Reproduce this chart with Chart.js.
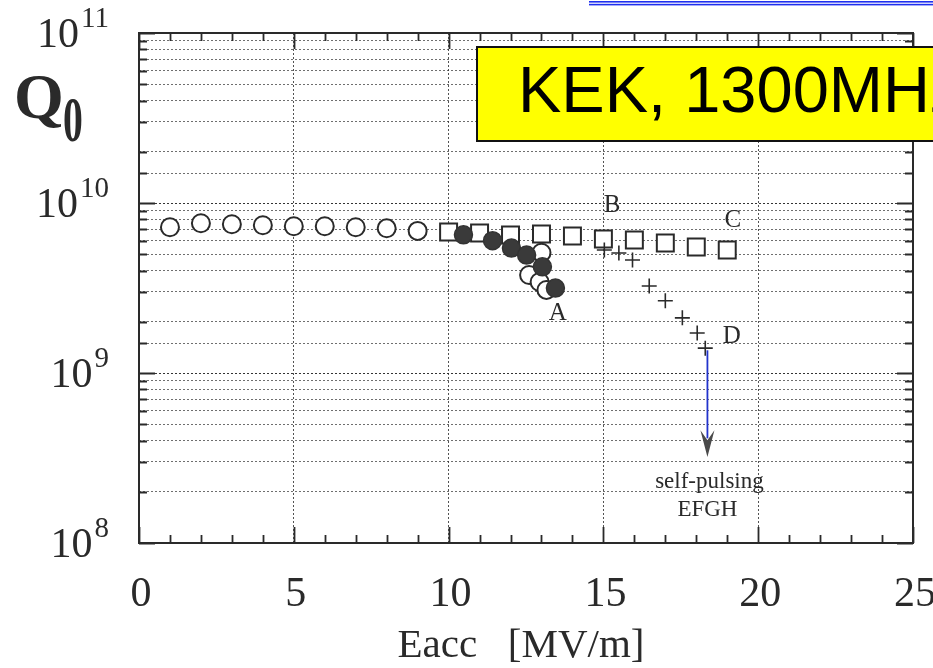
<!DOCTYPE html>
<html>
<head>
<meta charset="utf-8">
<script src="https://cdn.jsdelivr.net/npm/chart.js@4"></script>
<style>
  html, body { margin: 0; padding: 0; background: #fff; }
  #wrap { width: 933px; height: 668px; }
</style>
</head>
<body>
<div id="wrap"><canvas id="q0Chart" width="933" height="668"></canvas></div>
<script>
// Q0 vs Eacc, KEK 1300 MHz cavities
const xTickLabels = [0, 5, 10, 15, 20, 25];
const yDecades = [1e8, 1e9, 1e10, 1e11];

// run A, open circles (rise then drop past 12.5 MV/m)
const openE = [1, 2, 3, 4, 5, 6, 7, 8, 9, 13.0, 12.6, 12.94, 13.16];
const openQ = [7.2e9, 7.6e9, 7.5e9, 7.4e9, 7.3e9, 7.3e9, 7.2e9, 7.1e9, 6.85e9, 5.1e9, 3.77e9, 3.43e9, 3.08e9];

// run A, filled circles
const filledE = [10.48, 11.42, 12.03, 12.52, 13.03, 13.45];
const filledQ = [6.5e9, 6.0e9, 5.43e9, 4.94e9, 4.21e9, 3.16e9];

// runs B-C, squares
const squareE = [10, 11, 12, 13, 14, 15, 16, 17, 18, 19];
const squareQ = [6.75e9, 6.66e9, 6.49e9, 6.57e9, 6.4e9, 6.14e9, 6.06e9, 5.82e9, 5.51e9, 5.29e9];

// run D, crosses
const crossE = [15.03, 15.5, 15.94, 16.48, 17.0, 17.55, 18.03, 18.29];
const crossQ = [5.29e9, 5.08e9, 4.62e9, 3.25e9, 2.66e9, 2.11e9, 1.72e9, 1.40e9];

const toPoints = (xs, ys) => xs.map((v, i) => ({ x: v, y: ys[i] }));

const ink = '#2a2a2a';
const serif = '"Liberation Serif", "Times New Roman", serif';

const isDecade = v => Math.abs(Math.log10(v) - Math.round(Math.log10(v))) < 1e-9;

// run letters and the self-pulsing note, placed in data units
const runLabels = [
    { text: 'A', e: 13.53, q: 2.25e9 },
    { text: 'B', e: 15.28, q: 9.7e9 },
    { text: 'C', e: 19.18, q: 7.9e9 },
    { text: 'D', e: 19.15, q: 1.63e9 }
];
const arrow = { e: 18.36, from: 1.36e9, to: 3.2e8, head: 4.6e8 };

const decor = {
    id: 'decor',
    afterDraw(chart) {
        const { ctx, chartArea: a, scales: { x, y } } = chart;
        ctx.save();

        // frame
        ctx.strokeStyle = ink;
        ctx.lineWidth = 2;
        ctx.strokeRect(a.left, a.top, a.right - a.left, a.bottom - a.top);

        // inward ticks on all four sides
        ctx.lineWidth = 1.8;
        ctx.beginPath();
        x.ticks.forEach(t => {
            const px = Math.round(x.getPixelForValue(t.value)) + 0.5;
            const len = t.value % 5 === 0 ? 16 : 8;
            ctx.moveTo(px, a.bottom); ctx.lineTo(px, a.bottom - len);
            ctx.moveTo(px, a.top); ctx.lineTo(px, a.top + len);
        });
        y.ticks.forEach(t => {
            const py = Math.round(y.getPixelForValue(t.value)) + 0.5;
            const len = isDecade(t.value) ? 16 : 8;
            ctx.moveTo(a.left, py); ctx.lineTo(a.left + len, py);
            ctx.moveTo(a.right, py); ctx.lineTo(a.right - len, py);
        });
        ctx.stroke();

        // x tick labels
        ctx.fillStyle = ink;
        ctx.font = '42px ' + serif;
        ctx.textAlign = 'center';
        ctx.textBaseline = 'alphabetic';
        xTickLabels.forEach(v => {
            ctx.fillText(String(v), x.getPixelForValue(v) + 2, 606);
        });

        // y tick labels as 10^n
        yDecades.forEach(v => {
            const py = y.getPixelForValue(v);
            const exp = String(Math.round(Math.log10(v)));
            ctx.textAlign = 'right';
            ctx.font = '29px ' + serif;
            ctx.fillText(exp, 109, py - 6);
            const ew = ctx.measureText(exp).width;
            ctx.font = '42px ' + serif;
            ctx.fillText('10', 109 - ew - 2, py + 14);
        });

        // axis titles
        ctx.textAlign = 'center';
        ctx.font = '41px ' + serif;
        ctx.fillText('Eacc   [MV/m]', 521, 657);

        ctx.textAlign = 'left';
        ctx.font = 'bold 64px ' + serif;
        ctx.fillText('Q', 14, 118);
        ctx.save();
        ctx.translate(63, 141);
        ctx.scale(0.62, 1);
        ctx.font = 'bold 64px ' + serif;
        ctx.fillText('0', 0, 0);
        ctx.restore();

        // run letters
        ctx.textAlign = 'center';
        ctx.textBaseline = 'middle';
        ctx.font = '25px ' + serif;
        runLabels.forEach(l => {
            ctx.fillText(l.text, x.getPixelForValue(l.e), y.getPixelForValue(l.q));
        });

        // self-pulsing arrow
        const ax = x.getPixelForValue(arrow.e);
        const y0 = y.getPixelForValue(arrow.from);
        const y1 = y.getPixelForValue(arrow.to);
        const yh = y.getPixelForValue(arrow.head);
        ctx.strokeStyle = '#2233cc';
        ctx.lineWidth = 1.8;
        ctx.beginPath();
        ctx.moveTo(ax, y0);
        ctx.lineTo(ax, yh + 8);
        ctx.stroke();
        ctx.fillStyle = '#4a4a4a';
        ctx.beginPath();
        ctx.moveTo(ax - 7, yh);
        ctx.lineTo(ax, y1);
        ctx.lineTo(ax + 7, yh);
        ctx.lineTo(ax, yh + 10);
        ctx.closePath();
        ctx.fill();

        ctx.fillStyle = ink;
        ctx.font = '23px ' + serif;
        ctx.fillText('self-pulsing', ax + 2, y.getPixelForValue(2.29e8));
        ctx.fillText('EFGH', ax, y.getPixelForValue(1.56e8));

        // title box
        ctx.fillStyle = '#ffff00';
        ctx.fillRect(477, 47, 470, 94);
        ctx.strokeStyle = '#111';
        ctx.lineWidth = 2;
        ctx.strokeRect(477, 47, 470, 94);
        ctx.fillStyle = '#000';
        ctx.textAlign = 'left';
        ctx.textBaseline = 'alphabetic';
        ctx.font = '65px "Liberation Sans", Arial, sans-serif';
        ctx.fillText('KEK, 1300MHz', 518, 112);

        // link underline at the top edge
        ctx.fillStyle = '#1f2fee';
        ctx.fillRect(589, 1, 344, 1.6);
        ctx.fillRect(589, 3.8, 344, 1.6);

        ctx.restore();
    }
};

const gridX = c => {
    const v = c.tick ? c.tick.value : null;
    return (v !== null && v % 5 === 0 && v > 0 && v < 25) ? 'rgba(40,40,40,0.8)' : 'rgba(0,0,0,0)';
};
const gridY = c => {
    const v = c.tick ? c.tick.value : null;
    if (v === null || v <= 1e8 || v >= 1e11) return 'rgba(0,0,0,0)';
    return isDecade(v) ? 'rgba(30,30,30,0.9)' : 'rgba(50,50,50,0.7)';
};

new Chart(document.getElementById('q0Chart'), {
    type: 'scatter',
    data: {
        datasets: [
            {
                data: toPoints(crossE, crossQ), order: 1,
                pointStyle: 'cross', pointRadius: 7.5, borderWidth: 1.6,
                borderColor: ink, backgroundColor: ink
            },
            {
                data: toPoints(filledE, filledQ), order: 2,
                pointStyle: 'circle', pointRadius: 9, borderWidth: 1.5,
                borderColor: '#333', backgroundColor: '#3a3a3a'
            },
            {
                data: toPoints(squareE, squareQ), order: 3,
                pointStyle: 'rect', pointRadius: 12, borderWidth: 2,
                borderColor: ink, backgroundColor: '#fff'
            },
            {
                data: toPoints(openE, openQ), order: 4,
                pointStyle: 'circle', pointRadius: 9, borderWidth: 2,
                borderColor: ink, backgroundColor: '#fff'
            }
        ]
    },
    options: {
        responsive: false,
        animation: false,
        layout: { padding: { left: 139, right: 20, top: 33, bottom: 125 } },
        plugins: { legend: { display: false }, tooltip: { enabled: false } },
        scales: {
            x: {
                type: 'linear', min: 0, max: 25,
                ticks: { display: false, stepSize: 1 },
                grid: { drawTicks: false, color: gridX, lineWidth: 1 },
                border: { display: false, dash: [2, 2] }
            },
            y: {
                type: 'logarithmic', min: 1e8, max: 1e11,
                ticks: { display: false },
                grid: { drawTicks: false, color: gridY, lineWidth: 1 },
                border: { display: false, dash: [2, 2] }
            }
        }
    },
    plugins: [decor]
});
</script>
</body>
</html>
